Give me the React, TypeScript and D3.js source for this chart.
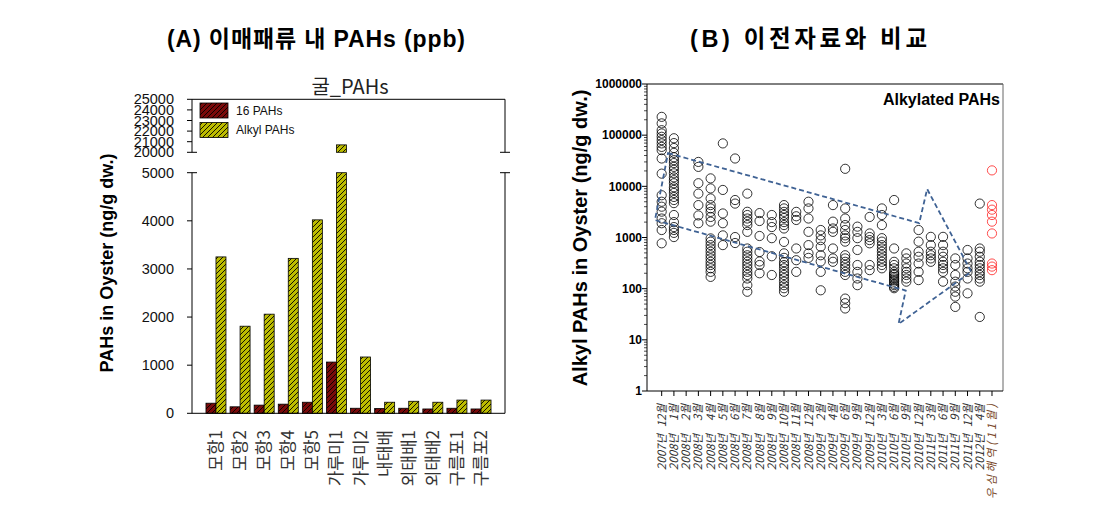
import React from 'react';
import * as d3 from 'd3';

// ---------- Panel A data ----------
const barCategories = ['모항1', '모항2', '모항3', '모항4', '모항5', '가루미1', '가루미2', '내태배', '외태배1', '외태배2', '구름포1', '구름포2'];
const pahs16 = [210, 135, 170, 190, 230, 1065, 105, 100, 105, 90, 105, 90];
const alkylPahs = [3250, 1810, 2060, 3220, 4020, 20700, 1170, 230, 250, 230, 275, 275];
const lowerTicks = [0, 1000, 2000, 3000, 4000, 5000];
const upperTicks = [20000, 21000, 22000, 23000, 24000, 25000];
const legendLabels = ['16 PAHs', 'Alkyl PAHs'];

// ---------- Panel B data ----------
const surveyLabels = [
  '2007년 12월', '2008년 1월', '2008년 2월', '2008년 3월', '2008년 4월', '2008년 5월', '2008년 6월',
  '2008년 7월', '2008년 8월', '2008년 9월', '2008년 10월', '2008년 11월', '2008년 12월',
  '2009년 2월', '2009년 4월', '2009년 6월', '2009년 9월', '2009년 12월',
  '2010년 3월', '2010년 6월', '2010년 9월', '2010년 12월',
  '2011년 3월', '2011년 6월', '2011년 9월', '2011년 12월', '2012년 4월', '우심해역(11월)'
];
const surveyValues: number[][] = [
  [228000, 170000, 125000, 108000, 93000, 80000, 69000, 59000, 51000, 35000, 17700, 6700, 5000, 4000, 3200, 2350, 1900, 1400, 770],
  [87000, 70000, 56000, 45000, 37000, 32500, 28500, 24000, 21000, 18000, 15000, 13200, 11500, 9600, 8500, 7400, 6200, 5400, 4700, 2750, 2000, 1600, 1400, 1230, 1020],
  [],
  [30000, 24000, 11500, 7200, 4300, 2700, 1900],
  [14300, 9100, 5800, 4300, 3700, 3170, 2520, 2040, 960, 830, 710, 610, 527, 450, 390, 335, 290, 250, 213, 170],
  [69000, 8500, 2950, 1900, 1100, 710],
  [35000, 5400, 4600, 1020, 780],
  [7200, 3180, 2750, 2350, 2040, 1750, 1290, 610, 527, 450, 390, 335, 290, 250, 213, 185, 158, 117, 87],
  [3000, 2100, 1070, 520, 340, 290, 200],
  [2750, 2000, 1600, 970, 430, 185],
  [4300, 3700, 3170, 2750, 2400, 2000, 1750, 1500, 820, 490, 400, 330, 290, 250, 213, 185, 160, 137, 117, 102, 87],
  [3170, 2600, 2200, 610, 360, 213],
  [5000, 3700, 2350, 1290, 710, 490, 400],
  [1400, 1100, 890, 660, 450, 340, 213, 93],
  [4300, 2040, 1500, 1290, 610, 390, 335],
  [22000, 3700, 2350, 1750, 1400, 1100, 970, 830, 450, 390, 335, 290, 250, 213, 185, 64, 52, 41],
  [1630, 1290, 970, 570, 290, 213, 158, 117],
  [2520, 1200, 1020, 890, 770, 290, 230],
  [3700, 2750, 1750, 970, 830, 710, 610, 527, 450, 390, 335, 290, 250],
  [5400, 610, 335, 290, 250, 213, 195, 185, 170, 158, 147, 137, 125, 117, 108, 102],
  [490, 390, 310, 250, 213, 185, 158, 137],
  [1400, 830, 527, 420, 310, 213, 147],
  [1030, 710, 527, 450, 390, 335],
  [1030, 710, 527, 420, 335, 290, 250, 213, 137],
  [390, 290, 185, 137, 110, 87, 70, 44],
  [570, 390, 310, 250, 213, 158, 81],
  [4600, 610, 527, 420, 335, 290, 250, 213, 185, 158, 137, 28],
  [20500, 4300, 3500, 2750, 2040, 1200, 310, 270, 230]
];
const highlightIndex = 27;
const logTicks = [1, 10, 100, 1000, 10000, 100000, 1000000];
// trend arrow outline in data units: [category index, value]
const arrowPoints: [number, number][] = [
  [0.52, 44600], [21.05, 1910], [21.7, 8850], [25.3, 214], [19.36, 20.4], [19.95, 92], [-0.55, 2190]
];

const LATIN = '"Liberation Sans", Arial, "Noto Sans CJK KR", sans-serif';
const KR = '"Noto Sans CJK KR", "Liberation Sans", sans-serif';

export default function App() {
  // ----- Panel A geometry -----
  const aLeft = 192, aRight = 505;
  const yUpper = d3.scaleLinear().domain([20000, 25000]).range([152.3, 99.3]);
  const yLower = d3.scaleLinear().domain([0, 5000]).range([413.3, 172.7]);
  const xBand = d3.scaleBand<string>().domain(barCategories).range([aLeft, aRight]).paddingInner(0.17).paddingOuter(0.58);
  const bw = xBand.bandwidth() / 2;

  const barRects = (v: number, x: number, key: string, fill: string) => {
    const out: JSX.Element[] = [];
    if (v <= 5000) {
      out.push(<rect key={key} x={x} y={yLower(v)} width={bw} height={yLower(0) - yLower(v)} fill={fill} stroke="#000" strokeWidth={0.8} />);
    } else {
      out.push(<rect key={key + 'l'} x={x} y={yLower(5000)} width={bw} height={yLower(0) - yLower(5000)} fill={fill} stroke="#000" strokeWidth={0.8} />);
      out.push(<rect key={key + 'u'} x={x} y={yUpper(v)} width={bw} height={yUpper(20000) - yUpper(v)} fill={fill} stroke="#000" strokeWidth={0.8} />);
    }
    return out;
  };

  // ----- Panel B geometry -----
  const bLeft = 647, bRight = 1003, bTop = 84, bBottom = 391;
  const xR = d3.scaleLinear().domain([-1.2, 27.9]).range([bLeft, bRight]);
  const yR = d3.scaleLog().domain([1, 1e6]).range([bBottom, bTop]);
  const minorTicks: number[] = [];
  for (let e = 0; e < 6; e++) for (let m = 2; m <= 9; m++) minorTicks.push(m * Math.pow(10, e));
  const arrowLine = d3.line<[number, number]>().x(d => xR(d[0])).y(d => yR(d[1]));
  const arrowPath = arrowLine(arrowPoints) + 'Z';

  return (
    <div style={{ position: 'absolute', left: 0, top: 0 }}>
      <svg width={1097} height={514} style={{ display: 'block', background: '#fff' }}>
        <defs>
          <pattern id="hatchRed" patternUnits="userSpaceOnUse" width={5} height={5}>
            <rect width={5} height={5} fill="#7a0a0a" />
            <path d="M-1,1 l2,-2 M0,5 l5,-5 M4,6 l2,-2" stroke="#000" strokeWidth={0.9} />
          </pattern>
          <pattern id="hatchOlive" patternUnits="userSpaceOnUse" width={5} height={5}>
            <rect width={5} height={5} fill="#bcbc00" />
            <path d="M-1,1 l2,-2 M0,5 l5,-5 M4,6 l2,-2" stroke="#000" strokeWidth={0.9} />
          </pattern>
        </defs>

        {/* Titles */}
        <text x={167} y={47} textLength={298} lengthAdjust="spacing" fontFamily={LATIN} fontWeight="bold" fontSize={23} fill="#000">(A) 이매패류 내 PAHs (ppb)</text>
        <text x={690} y={47} textLength={237} lengthAdjust="spacing" fontFamily={LATIN} fontWeight="bold" fontSize={23.5} fill="#000">(B) 이전자료와 비교</text>

        {/* ===== Panel A ===== */}
        <text x={350} y={94} textAnchor="middle" fontFamily={KR} fontSize={20} fill="#222">굴_PAHs</text>

        {/* bars */}
        {barCategories.map((c, i) => {
          const x0 = xBand(c) as number;
          return (
            <g key={c}>
              {barRects(pahs16[i], x0, 'r' + i, 'url(#hatchRed)')}
              {barRects(alkylPahs[i], x0 + bw, 'g' + i, 'url(#hatchOlive)')}
            </g>
          );
        })}

        {/* frame upper */}
        <line x1={aLeft} x2={aRight} y1={yUpper(25000)} y2={yUpper(25000)} stroke="#000" />
        <line x1={aLeft} x2={aLeft} y1={yUpper(25000)} y2={yUpper(20000)} stroke="#000" />
        <line x1={aRight} x2={aRight} y1={yUpper(25000)} y2={yUpper(20000)} stroke="#000" />
        {/* frame lower */}
        <line x1={aLeft} x2={aLeft} y1={yLower(5000)} y2={yLower(0)} stroke="#000" />
        <line x1={aRight} x2={aRight} y1={yLower(5000)} y2={yLower(0)} stroke="#000" />
        <line x1={aLeft} x2={aRight} y1={yLower(0)} y2={yLower(0)} stroke="#000" />
        {/* break marks */}
        {[yUpper(20000), yLower(5000)].map((y, i) => (
          <g key={'brk' + i}>
            <line x1={aLeft - 5} x2={aLeft + 5} y1={y} y2={y} stroke="#000" />
            <line x1={aRight - 5} x2={aRight + 5} y1={y} y2={y} stroke="#000" />
          </g>
        ))}
        {/* upper ticks */}
        {upperTicks.map(t => (
          <g key={'ut' + t}>
            {t !== 20000 && <line x1={aLeft - 5} x2={aLeft} y1={yUpper(t)} y2={yUpper(t)} stroke="#000" />}
            <text x={174} y={yUpper(t)} dy="0.35em" textAnchor="end" fontFamily={LATIN} fontSize={14.5} fill="#111">{t}</text>
          </g>
        ))}
        {lowerTicks.map(t => (
          <g key={'lt' + t}>
            {t !== 5000 && <line x1={aLeft - 5} x2={aLeft} y1={yLower(t)} y2={yLower(t)} stroke="#000" />}
            <text x={174} y={yLower(t)} dy="0.35em" textAnchor="end" fontFamily={LATIN} fontSize={14.5} fill="#111">{t}</text>
          </g>
        ))}
        <text transform={`translate(107,263) rotate(-90)`} textAnchor="middle" dy="0.35em" fontFamily={LATIN} fontWeight="bold" fontSize={18} fill="#000">PAHs in Oyster (ng/g dw.)</text>

        {/* x labels A */}
        {barCategories.map(c => {
          const cx = (xBand(c) as number) + xBand.bandwidth() / 2;
          return (
            <text key={'xl' + c} transform={`translate(${cx},430) rotate(-90)`} textAnchor="end" dy="0.35em" fontFamily={KR} fontSize={17} fill="#333">{c}</text>
          );
        })}

        {/* legend */}
        {legendLabels.map((l, i) => (
          <g key={l}>
            <rect x={200} y={103 + i * 19.5} width={28} height={15} fill={i === 0 ? 'url(#hatchRed)' : 'url(#hatchOlive)'} stroke="#000" strokeWidth={0.8} />
            <text x={236} y={110.5 + i * 19.5} dy="0.35em" fontFamily={LATIN} fontSize={12} fill="#111">{l}</text>
          </g>
        ))}

        {/* ===== Panel B ===== */}
        <line x1={bLeft} x2={bRight} y1={bTop} y2={bTop} stroke="#000" />
        <line x1={bRight} x2={bRight} y1={bTop} y2={bBottom} stroke="#666" />
        <line x1={bLeft} x2={bLeft} y1={bTop} y2={bBottom} stroke="#000" />
        <line x1={bLeft} x2={bRight} y1={bBottom} y2={bBottom} stroke="#000" />
        {logTicks.map(t => (
          <g key={'lg' + t}>
            <line x1={bLeft - 5} x2={bLeft} y1={yR(t)} y2={yR(t)} stroke="#000" />
            <text x={642} y={yR(t)} dy="0.35em" textAnchor="end" fontFamily={LATIN} fontWeight="bold" fontSize={12} fill="#000">{t}</text>
          </g>
        ))}
        {minorTicks.map(t => (
          <line key={'mn' + t} x1={bLeft - 3} x2={bLeft} y1={yR(t)} y2={yR(t)} stroke="#000" strokeWidth={0.7} />
        ))}
        {surveyLabels.map((l, i) => {
          const x = xR(i);
          const k = l.indexOf('년');
          const common = { fontFamily: KR, fontStyle: 'italic', fontSize: 11.5 };
          return (
            <g key={'sx' + i}>
              <line x1={x} x2={x} y1={bBottom} y2={bBottom + 5} stroke="#000" />
              {k >= 0 ? (
                <>
                  <text transform={`translate(${x},404) rotate(-90)`} textAnchor="end" dy="0.35em" {...common} fill="#333">{l.slice(k + 1).trim()}</text>
                  <text transform={`translate(${x},434) rotate(-90)`} textAnchor="end" dy="0.35em" {...common} fill="#333">{l.slice(0, k + 1)}</text>
                </>
              ) : (
                <text transform={`translate(${x},404) rotate(-90)`} textAnchor="end" dy="0.35em" {...common} textLength={95} lengthAdjust="spacing" fill="#7a4a2a">{l}</text>
              )}
            </g>
          );
        })}
        <text transform={`translate(580,238) rotate(-90)`} textAnchor="middle" dy="0.35em" fontFamily={LATIN} fontWeight="bold" fontSize={20} fill="#000">Alkyl PAHs in Oyster (ng/g dw.)</text>
        <text x={1000} y={105} textAnchor="end" fontFamily={LATIN} fontWeight="bold" fontSize={16} fill="#000">Alkylated PAHs</text>

        {/* points */}
        {surveyValues.map((vals, i) => vals.map((v, j) => (
          <circle key={`p${i}-${j}`} cx={xR(i)} cy={yR(v)} r={4.6} fill="none" stroke={i === highlightIndex ? '#ff2020' : '#000'} strokeWidth={0.8} />
        )))}

        {/* trend arrow */}
        <path d={arrowPath} fill="none" stroke="#3f6294" strokeWidth={1.8} strokeDasharray="5,3" />
      </svg>
    </div>
  );
}
